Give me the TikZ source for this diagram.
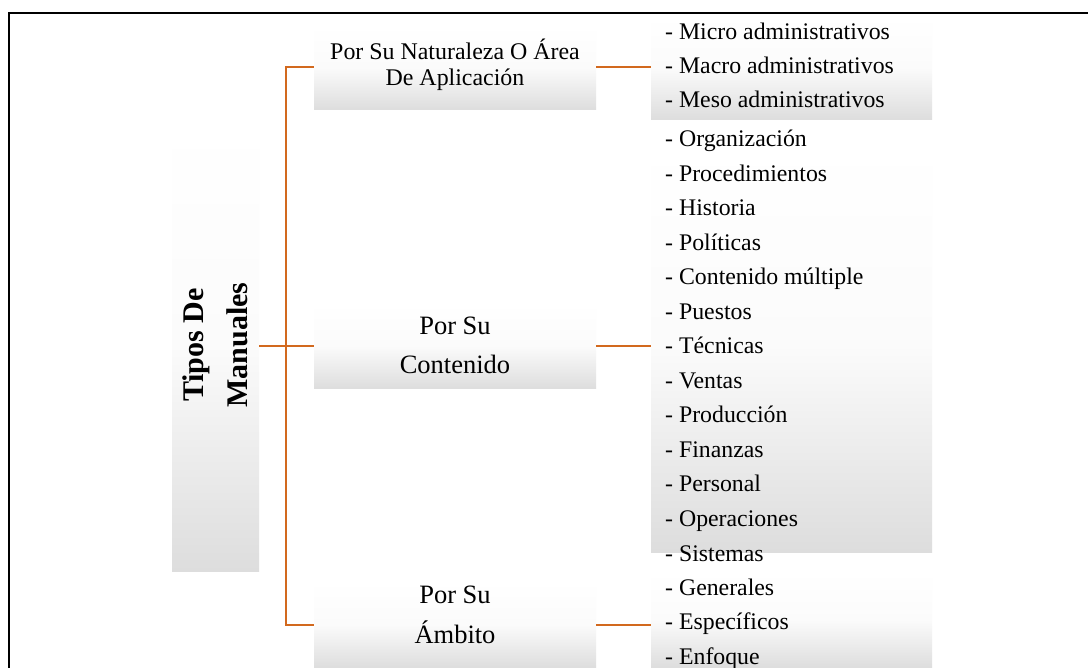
\documentclass[tikz,border=0pt]{standalone}
\usepackage{fontspec}
\setmainfont{Liberation Serif}
\definecolor{conorange}{HTML}{D2691E}
\definecolor{boxgray}{HTML}{DDDDDD}
\tikzset{
  shadebox/.style={rectangle, inner sep=0pt, outer sep=0pt, top color=white, bottom color=boxgray, middle color=white!88!boxgray, draw=none},
  conn/.style={draw=conorange, line width=2pt},
  item/.style={anchor=base west, inner sep=0pt, font=\fontsize{23.8}{28}\selectfont},
  midtxt/.style={anchor=base, inner sep=0pt},
  frame/.style={line width=2pt, draw=black},
}
\begin{document}
\begin{tikzpicture}[x=1pt,y=-1pt]
\useasboundingbox (0,0) rectangle (1088,668);
\fill[white] (0,0) rectangle (1088,668);
\draw[frame] (9,668) -- (9,13) -- (1088,13);

% root box
\node[shadebox, minimum width=87pt, minimum height=450pt] (root) at (215.5,346) {};
\node[rotate=90, align=center, inner sep=0pt, font=\bfseries\fontsize{30}{44}\selectfont] (roottxt) at (215.5,345) {Tipos De\\Manuales};

% middle boxes
\node[shadebox, minimum width=282pt, minimum height=85pt] (mid1) at (455,67.5) {};
\node[shadebox, minimum width=282pt, minimum height=86pt] (mid2) at (455,346) {};
\node[shadebox, minimum width=282pt, minimum height=87pt] (mid3) at (455,624.5) {};

\node[midtxt, font=\fontsize{23.9}{26}\selectfont] (m1a) at (455,60) {Por Su Naturaleza O Área};
\node[midtxt, font=\fontsize{23.9}{26}\selectfont] (m1b) at (455,86) {De Aplicación};
\node[midtxt, font=\fontsize{26.5}{30}\selectfont] (m2a) at (455,335) {Por Su};
\node[midtxt, font=\fontsize{26.5}{30}\selectfont] (m2b) at (455,374) {Contenido};
\node[midtxt, font=\fontsize{26.5}{30}\selectfont] (m3a) at (455,603) {Por Su};
\node[midtxt, font=\fontsize{26.5}{30}\selectfont] (m3b) at (455,643) {Ámbito};

% right boxes
\node[shadebox, minimum width=281pt, minimum height=104pt] (right1) at (791.5,68) {};
\node[shadebox, minimum width=281pt, minimum height=412pt] (right2) at (791.5,346) {};
\node[shadebox, minimum width=281pt, minimum height=96pt] (right3) at (791.5,620) {};

\foreach \t [count=\i] in {Micro administrativos, Macro administrativos, Meso administrativos}
  \node[item] (ra\i) at (665, {40+34*(\i-1)}) {- \t};
\foreach \t [count=\i] in {Organización, Procedimientos, Historia, Políticas, Contenido múltiple, Puestos, Técnicas, Ventas, Producción, Finanzas, Personal, Operaciones, Sistemas}
  \node[item] (rb\i) at (665, {147+34.5*(\i-1)}) {- \t};
\foreach \t [count=\i] in {Generales, Específicos, Enfoque}
  \node[item] (rc\i) at (665, {595+34.8*(\i-1)}) {- \t};

% connectors
\coordinate (j) at (286,346);
\draw[conn] (root.east) -- (j);
\draw[conn] (j) |- (mid1.west);
\draw[conn] (j) -- (mid2.west);
\draw[conn] (j) |- (mid3.west);
\draw[conn] (mid1.east) -- (mid1.east -| right1.west);
\draw[conn] (mid2.east) -- (right2.west);
\draw[conn] (mid3.east) -- (mid3.east -| right3.west);
\end{tikzpicture}
\end{document}
